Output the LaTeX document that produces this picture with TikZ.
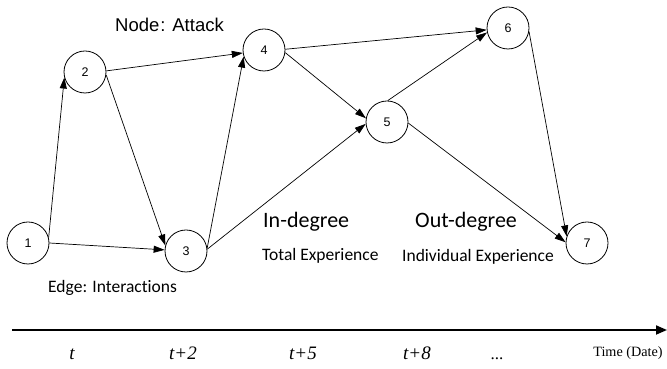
\documentclass[tikz,border=0pt]{standalone}
\usepackage{fontspec}
\setmainfont{Liberation Serif}
\newfontfamily\arialf{Liberation Sans}
\newfontfamily\calf[Ligatures={NoCommon}]{Carlito}
\usetikzlibrary{arrows.meta}
\tikzset{
  vert/.style={circle,draw,line width=0.8pt,minimum size=42pt,inner sep=0pt,font=\arialf\fontsize{12.5}{14}\selectfont},
  edge/.style={line width=0.7pt,-{Triangle[length=11pt,width=7pt]}},
  bigl/.style={anchor=base west,inner sep=0pt,font=\calf\fontsize{22}{26}\selectfont},
  smalll/.style={anchor=base west,inner sep=0pt,font=\calf\fontsize{17.5}{21}\selectfont},
  tlab/.style={anchor=base,inner sep=0pt,font=\itshape\fontsize{19}{22}\selectfont},
}
\begin{document}
\begin{tikzpicture}[x=1pt,y=1pt]
\useasboundingbox (0,0) rectangle (667,369);
\node[vert] (n1) at (28,126) {1};
\node[vert] (n2) at (85,297) {2};
\node[vert] (n3) at (186,118) {3};
\node[vert] (n4) at (264,319) {4};
\node[vert] (n5) at (387,247) {5};
\node[vert] (n6) at (508,341) {6};
\node[vert] (n7) at (587,126) {7};
\draw[edge] (n1.15) -- (n2.195);
\draw[edge] (n1.0) -- (n3.177);
\draw[edge] (n2.352) -- (n3.165);
\draw[edge] (n2.3) -- (n4.188);
\draw[edge] (n3.8) -- (n4.198);
\draw[edge] (n3.5) -- (n5.185);
\draw[edge] (n4.353) -- (n5.170);
\draw[edge] (n4.2) -- (n6.185);
\draw[edge] (n5.88) -- (n6.192);
\draw[edge] (n5.357) -- (n7.178);
\draw[edge] (n6.350) -- (n7.162);
\node[anchor=base west,inner sep=0pt,font=\arialf\fontsize{18.5}{22}\selectfont] (title) at (115,337) {Node\kern1pt: Attack};
\node[bigl] (indeg) at (263,141) {In-degree};
\node[smalll] (totexp) at (262,108) {Total Experience};
\node[bigl] (outdeg) at (415,141) {Out-degree};
\node[smalll] (indexp) at (402,107) {Individual Experience};
\node[smalll] (edgel) at (48,76) {Edge: Interactions};
\coordinate (axs) at (12,39);
\coordinate (axe) at (667,39);
\draw[line width=1.8pt,-{Triangle[length=11pt,width=9pt]}] (axs) -- (axe);
\node[tlab] (t0) at (72,9) {t};
\node[tlab] (t2) at (183,9) {t+2};
\node[tlab] (t5) at (303,9) {t+5};
\node[tlab] (t8) at (417,9) {t+8};
\node[anchor=base,inner sep=0pt,font=\fontsize{17}{20}\selectfont] (dots) at (497,9) {...};
\node[anchor=base,inner sep=0pt,font=\fontsize{14.2}{17}\selectfont] (timel) at (628,12) {Time (Date)};
\end{tikzpicture}
\end{document}
